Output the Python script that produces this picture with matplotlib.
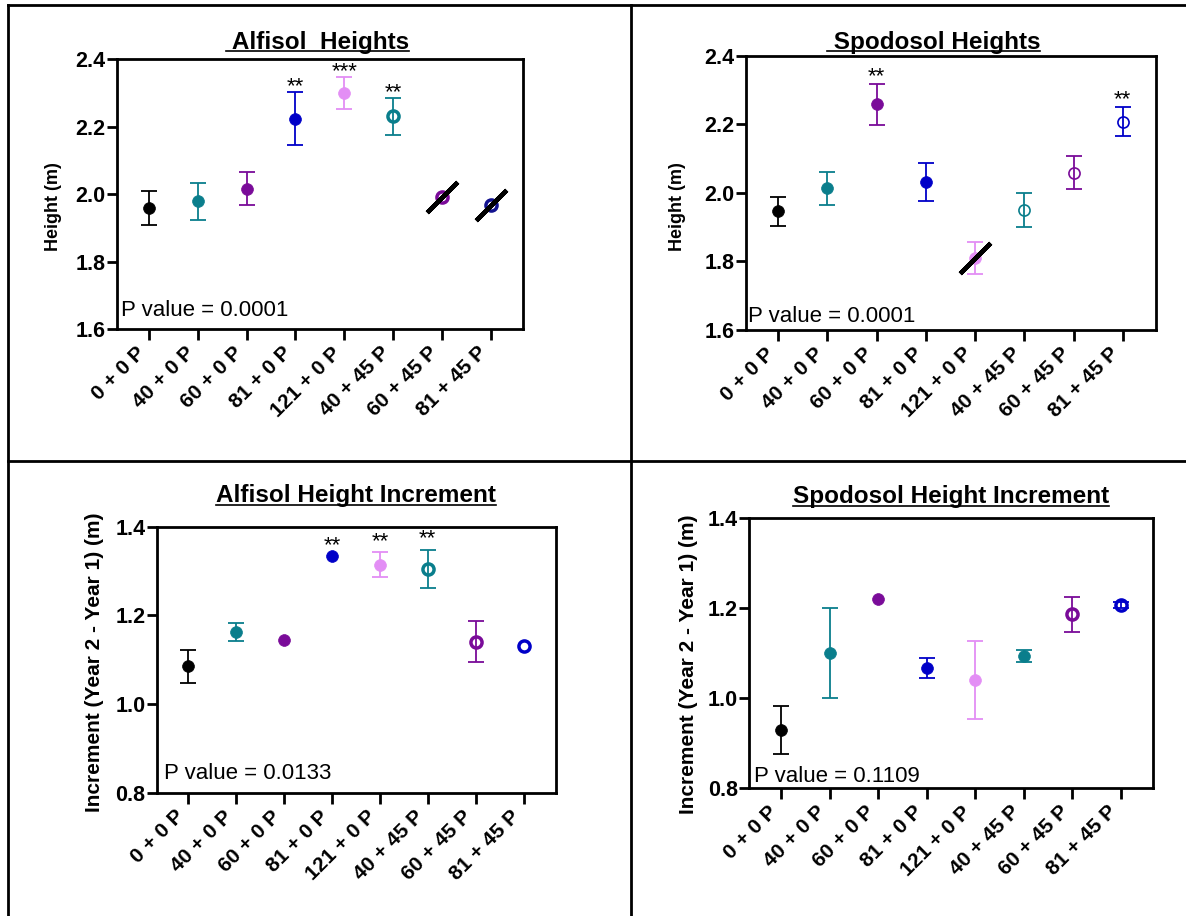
import matplotlib
matplotlib.use('Agg')
from matplotlib import pyplot as plt
from matplotlib.lines import Line2D

plt.rcParams['font.family'] = ['Liberation Sans', 'DejaVu Sans']

W, H = 1186, 916

treatments = ['0 + 0 P', '40 + 0 P', '60 + 0 P', '81 + 0 P',
              '121 + 0 P', '40 + 45 P', '60 + 45 P', '81 + 45 P']

# values
alf_height = [1.960, 1.979, 2.017, 2.224, 2.301, 2.231, 1.992, 1.969]
alf_height_err = [0.051, 0.055, 0.049, 0.079, 0.047, 0.054, 0, 0]
alf_height_stars = ['', '', '', '**', '***', '**', '', '']

spo_height = [1.946, 2.013, 2.258, 2.031, 1.809, 1.951, 2.059, 2.208]
spo_height_err = [0.043, 0.048, 0.060, 0.056, 0.047, 0.050, 0.048, 0.043]
spo_height_stars = ['', '', '**', '', '', '', '', '**']

alf_inc = [1.085, 1.163, 1.144, 1.333, 1.314, 1.304, 1.141, 1.132]
alf_inc_err = [0.037, 0.020, 0, 0, 0.028, 0.043, 0.046, 0]
alf_inc_stars = ['', '', '', '**', '**', '**', '', '']

spo_inc = [0.930, 1.100, 1.221, 1.068, 1.040, 1.094, 1.187, 1.207]
spo_inc_err = [0.053, 0.100, 0, 0.022, 0.087, 0.014, 0.039, 0.006]
spo_inc_stars = ['', '', '', '', '', '', '', '']

BLACK = '#000000'
TEAL = '#0a7e8c'
PURPLE = '#7a0b99'
BLUE = '#0000c8'
PINK = '#e38ef5'
NAVY = '#12128f'

colors_a = [BLACK, TEAL, PURPLE, BLUE, PINK, TEAL, PURPLE, NAVY]
colors_b = [BLACK, TEAL, PURPLE, BLUE, PINK, TEAL, PURPLE, BLUE]


def px_rect(left, top, right, bottom):
    return [left / W, 1 - bottom / H, (right - left) / W, (bottom - top) / H]


def fig_xy(x, y):
    return x / W, 1 - y / H


def draw_panel(fig, rect, values, errs, stars, colors, n_filled, open_mew,
               ylim, yticks, slashed, star_pad):
    ax = fig.add_axes(rect)
    for i, (v, e, c) in enumerate(zip(values, errs, colors)):
        filled = i < n_filled
        if e > 0:
            ax.errorbar(i, v, yerr=e, fmt='none', ecolor=c, elinewidth=1.3,
                        capsize=6, capthick=1.3, zorder=2)
        ax.plot(i, v, 'o', ms=8.5 if filled else 8, color=c,
                mfc=c if filled else 'none',
                mec=c, mew=0.5 if filled else open_mew, zorder=3)
        if i in slashed:
            ax.plot(i, v, marker=(2, 2, -45), ms=31, mew=3.2, color='black',
                    zorder=4)
        if stars[i]:
            ax.annotate(stars[i], xy=(i, v + e), xytext=(0, star_pad),
                        textcoords='offset points', ha='center', va='center',
                        fontsize=16)
    ax.set_xlim(-0.66, 7.67)
    ax.set_ylim(*ylim)
    ax.set_yticks(yticks)
    ax.set_yticklabels(['%.1f' % t for t in yticks], fontsize=15.5,
                       fontweight='bold')
    ax.set_xticks(range(len(treatments)))
    ax.set_xticklabels(treatments, rotation=45, ha='right', fontsize=15,
                       fontweight='bold')
    for s in ax.spines.values():
        s.set_linewidth(2)
    ax.tick_params(axis='y', length=7, width=2, pad=1)
    ax.tick_params(axis='x', length=8, width=2, pad=2)
    return ax


def main():
    fig = plt.figure(figsize=(W / 100, H / 100), dpi=100)

    # cell borders
    for x0, y0, x1, y1 in [(8, 5, 8, 916), (8, 5, 1186, 5),
                           (631, 5, 631, 916), (8, 461, 1186, 461)]:
        fig.add_artist(Line2D([x0 / W, x1 / W], [1 - y0 / H, 1 - y1 / H],
                              color='black', lw=2))

    draw_panel(fig, px_rect(116.7, 59.3, 523.3, 329.3), alf_height,
               alf_height_err, alf_height_stars, colors_a, 5, 2.5,
               (1.6, 2.4), [1.6, 1.8, 2.0, 2.2, 2.4], [6, 7], 4)
    draw_panel(fig, px_rect(745.7, 55.7, 1155.7, 330), spo_height,
               spo_height_err, spo_height_stars, colors_b, 5, 1.2,
               (1.6, 2.4), [1.6, 1.8, 2.0, 2.2, 2.4], [4], 5)
    draw_panel(fig, px_rect(156.7, 526.7, 555.7, 792.7), alf_inc,
               alf_inc_err, alf_inc_stars, colors_b, 5, 2.5,
               (0.8, 1.4), [0.8, 1.0, 1.2, 1.4], [], 8)
    draw_panel(fig, px_rect(749, 518.3, 1153, 788.3), spo_inc,
               spo_inc_err, spo_inc_stars, colors_b, 6, 2.5,
               (0.8, 1.4), [0.8, 1.0, 1.2, 1.4], [], 6)

    # titles (underlined)
    titles = [(' Alfisol  Heights', 317.7, 48.5),
              (' Spodosol Heights', 933.3, 48.5),
              ('Alfisol Height Increment', 356, 502),
              ('Spodosol Height Increment', 950.7, 503)]
    title_texts = []
    for txt, x, y in titles:
        t = fig.text(*fig_xy(x, y), txt, ha='center', va='baseline',
                     fontsize=17.5, fontweight='bold')
        title_texts.append((t, y))

    # y labels
    fig.text(*fig_xy(53, 207), 'Height (m)', rotation=90, ha='center',
             va='center', fontsize=13, fontweight='bold')
    fig.text(*fig_xy(678, 207), 'Height (m)', rotation=90, ha='center',
             va='center', fontsize=13, fontweight='bold')
    fig.text(*fig_xy(95, 662), 'Increment (Year 2 - Year 1) (m)', rotation=90,
             ha='center', va='center', fontsize=15, fontweight='bold')
    fig.text(*fig_xy(688, 664), 'Increment (Year 2 - Year 1) (m)', rotation=90,
             ha='center', va='center', fontsize=15, fontweight='bold')

    # p values
    for txt, x, y in [('P value = 0.0001', 121.5, 316.5),
                      ('P value = 0.0001', 748.3, 321.5),
                      ('P value = 0.0133', 164, 779),
                      ('P value = 0.1109', 754.3, 781.5)]:
        fig.text(*fig_xy(x, y), txt, ha='left', va='baseline', fontsize=16)

    fig.canvas.draw()
    renderer = fig.canvas.get_renderer()
    for t, y in title_texts:
        bb = t.get_window_extent(renderer)
        yl = 1 - (y + 2.5) / H
        fig.add_artist(Line2D([bb.x0 / W, bb.x1 / W], [yl, yl],
                              color='black', lw=1.2))

    fig.savefig('out.png', dpi=100)


if __name__ == "__main__":
    main()
